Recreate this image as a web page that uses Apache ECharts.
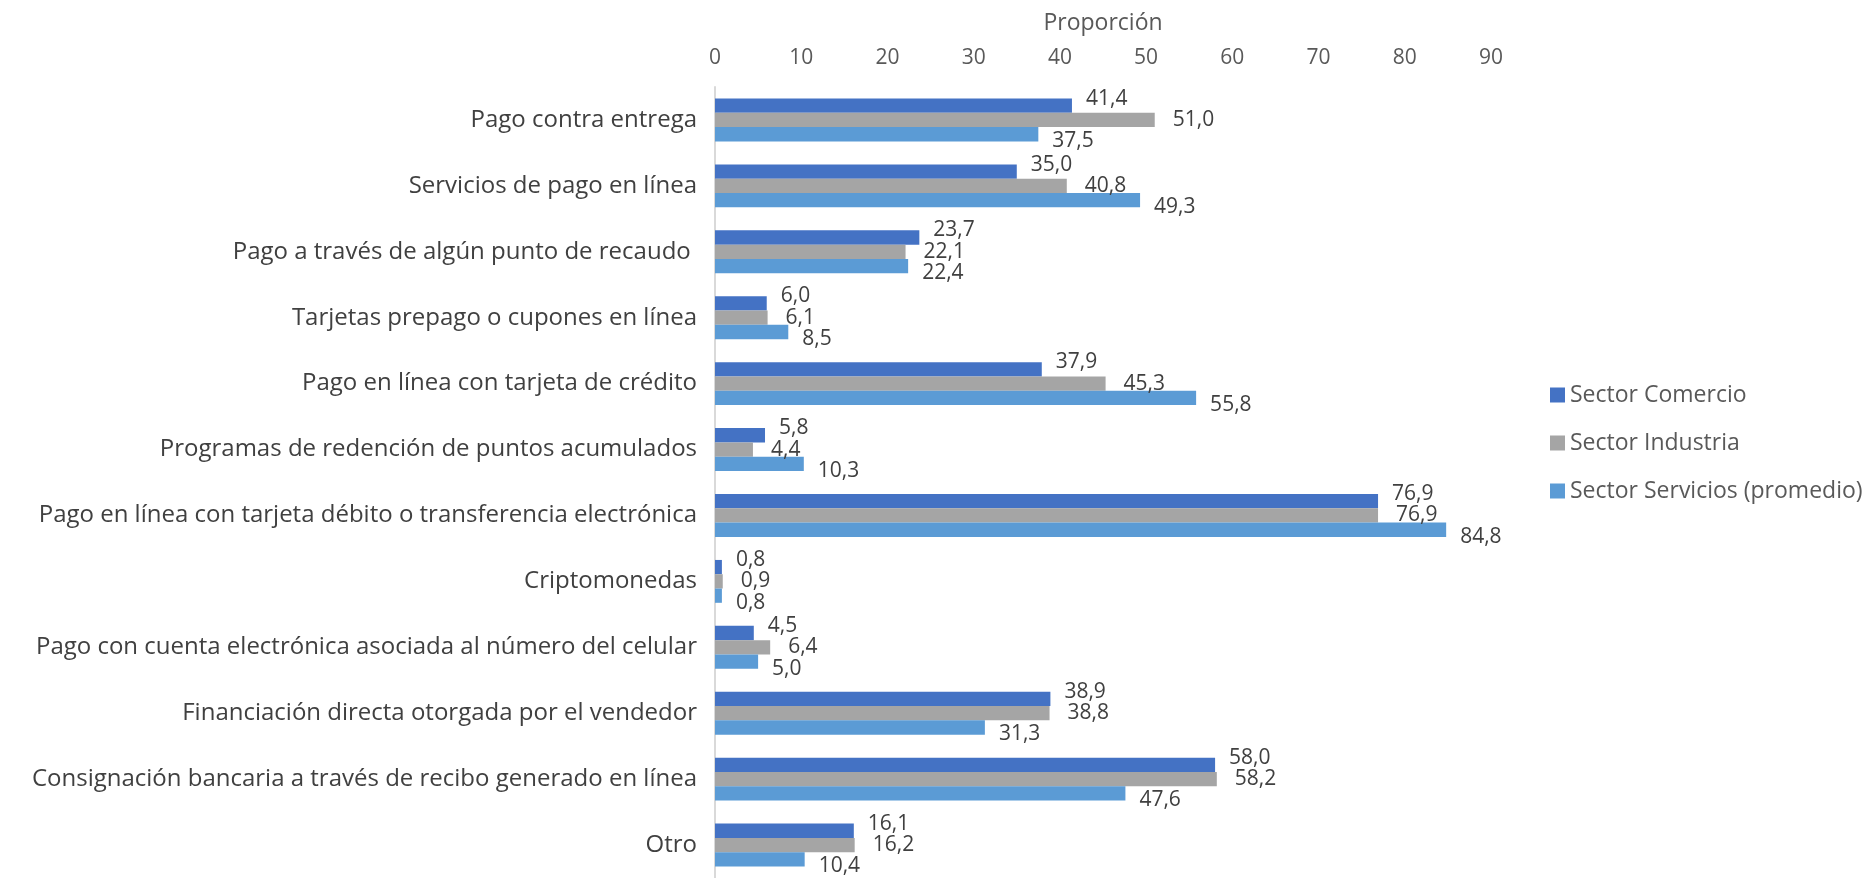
<!DOCTYPE html>
<html><head><meta charset="utf-8">
<script src="https://cdn.jsdelivr.net/npm/echarts@6/dist/echarts.min.js"></script>
<style>html,body{margin:0;padding:0;background:#fff}#c{width:1870px;height:878px}</style>
</head><body><div id="c"></div>
<script>
const categories = [
  "Pago contra entrega",
  "Servicios de pago en línea",
  "Pago a través de algún punto de recaudo ",
  "Tarjetas prepago o cupones en línea",
  "Pago en línea con tarjeta de crédito",
  "Programas de redención de puntos acumulados",
  "Pago en línea con tarjeta débito o transferencia electrónica",
  "Criptomonedas",
  "Pago con cuenta electrónica asociada al número del celular",
  "Financiación directa otorgada por el vendedor",
  "Consignación bancaria a través de recibo generado en línea",
  "Otro"
];
const comercio  = [41.4, 35.0, 23.7, 6.0, 37.9, 5.8, 76.9, 0.8, 4.5, 38.9, 58.0, 16.1];
const industria = [51.0, 40.8, 22.1, 6.1, 45.3, 4.4, 76.9, 0.9, 6.4, 38.8, 58.2, 16.2];
const servicios = [37.5, 49.3, 22.4, 8.5, 55.8, 10.3, 84.8, 0.8, 5.0, 31.3, 47.6, 10.4];
const seriesNames = ["Sector Comercio", "Sector Industria", "Sector Servicios (promedio)"];
const xTicks = [0, 10, 20, 30, 40, 50, 60, 70, 80, 90];

const FONT = "'Open Sans', 'Noto Sans', sans-serif";
const fmt = p => p.value.toFixed(1).replace('.', ',');
const colors = ['#4472C4', '#A5A5A5', '#5B9BD5'];
const offsets = [[8, -7], [12, 0], [8, 7]];
const datasets = [comercio, industria, servicios];

const chart = echarts.init(document.getElementById('c'));
chart.setOption({
  animation: false,
  textStyle: { fontFamily: FONT },
  grid: { left: 715, top: 87, width: 776, height: 797, containLabel: false },
  legend: {
    orient: 'vertical', left: 1545, top: 377,
    itemWidth: 15, itemHeight: 15, itemGap: 22,
    icon: 'rect',
    textStyle: { fontSize: 23, color: '#595959', fontFamily: FONT, lineHeight: 26 },
    data: seriesNames
  },
  xAxis: {
    type: 'value', position: 'top', min: xTicks[0], max: xTicks[xTicks.length - 1], interval: 10,
    name: 'Proporción', nameLocation: 'middle', nameGap: 52,
    nameTextStyle: { fontSize: 23, color: '#595959', fontFamily: FONT },
    axisLine: { show: false }, axisTick: { show: false }, splitLine: { show: false },
    axisLabel: { fontSize: 21, color: '#595959', margin: 18, fontFamily: FONT }
  },
  yAxis: {
    type: 'category', inverse: true, data: categories,
    axisLine: { show: true, lineStyle: { color: '#D9D9D9', width: 2 } },
    axisTick: { show: false },
    axisLabel: { fontSize: 24, color: '#404040', margin: 18, fontFamily: FONT }
  },
  series: datasets.map((d, i) => ({
    name: seriesNames[i], type: 'bar', data: d,
    barGap: '0%', barCategoryGap: '35%',
    itemStyle: { color: colors[i] },
    label: { show: true, position: 'right', distance: 6, offset: offsets[i],
      formatter: fmt, fontSize: 21, color: '#404040', fontFamily: FONT }
  }))
});
</script></body></html>
